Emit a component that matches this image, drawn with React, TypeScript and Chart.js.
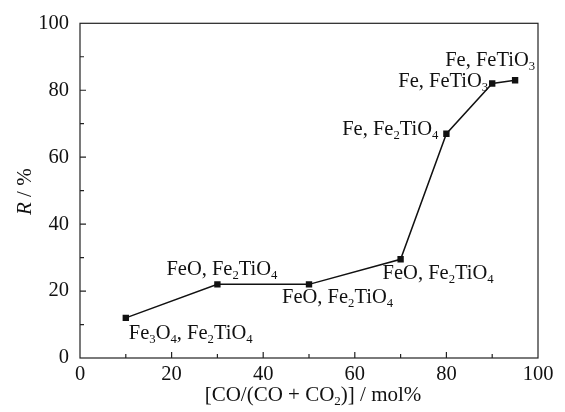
import React, { useEffect, useRef } from "react";
import { Chart, registerables } from "chart.js";

Chart.register(...registerables);

const xValues = [10, 30, 50, 70, 80, 90, 95];
const rValues = [12, 22, 22, 29.5, 67, 82, 83];
const phaseLabels = [
  "Fe_3O_4, Fe_2TiO_4",
  "FeO, Fe_2TiO_4",
  "FeO, Fe_2TiO_4",
  "FeO, Fe_2TiO_4",
  "Fe, Fe_2TiO_4",
  "Fe, FeTiO_3",
  "Fe, FeTiO_3",
];
// label anchor offsets relative to point (px): [dx, dy, align]
const labelOffsets: [number, number, string][] = [
  [3, 16, "left"],
  [-51, -15, "left"],
  [-27, 13, "left"],
  [-18, 14, "left"],
  [-8, -4, "right"],
  [-4, -2, "right"],
  [20, -20, "right"],
];
const xTicks = [0, 20, 40, 60, 80, 100];
const yTicks = [0, 20, 40, 60, 80, 100];

const FONT = "'Liberation Serif', 'DejaVu Serif', serif";

function parseSegs(s: string) {
  const segs: { t: string; sub: boolean }[] = [];
  let i = 0;
  let cur = "";
  while (i < s.length) {
    if (s[i] === "_") {
      if (cur) segs.push({ t: cur, sub: false });
      cur = "";
      segs.push({ t: s[i + 1], sub: true });
      i += 2;
    } else {
      cur += s[i];
      i++;
    }
  }
  if (cur) segs.push({ t: cur, sub: false });
  return segs;
}

function drawRich(ctx: CanvasRenderingContext2D, s: string, x: number, y: number, size: number, align: string) {
  const segs = parseSegs(s);
  const subSize = size * 0.62;
  let w = 0;
  for (const sg of segs) {
    ctx.font = `${sg.sub ? subSize : size}px ${FONT}`;
    w += ctx.measureText(sg.t).width;
  }
  let cx = align === "right" ? x - w : align === "center" ? x - w / 2 : x;
  ctx.textBaseline = "middle";
  ctx.textAlign = "left";
  for (const sg of segs) {
    ctx.font = `${sg.sub ? subSize : size}px ${FONT}`;
    ctx.fillText(sg.t, cx, sg.sub ? y + size * 0.3 : y);
    cx += ctx.measureText(sg.t).width;
  }
}

const overlay = {
  id: "overlay",
  afterDraw(chart: any) {
    const ctx = chart.ctx as CanvasRenderingContext2D;
    const { left, right, top, bottom } = chart.chartArea;
    const xs = chart.scales.x;
    const ys = chart.scales.y;
    ctx.save();
    ctx.strokeStyle = "#222";
    ctx.lineWidth = 1.2;
    ctx.strokeRect(left, top, right - left, bottom - top);
    ctx.beginPath();
    for (let v = 10; v < 100; v += 10) {
      const px = xs.getPixelForValue(v);
      const len = v % 20 === 0 ? 6 : 4;
      ctx.moveTo(px, bottom);
      ctx.lineTo(px, bottom - len);
      const py = ys.getPixelForValue(v);
      ctx.moveTo(left, py);
      ctx.lineTo(left + len, py);
    }
    ctx.stroke();
    ctx.fillStyle = "#111";
    for (let i = 0; i < xValues.length; i++) {
      const px = xs.getPixelForValue(xValues[i]);
      const py = ys.getPixelForValue(rValues[i]);
      const [dx, dy, al] = labelOffsets[i];
      drawRich(ctx, phaseLabels[i], px + dx, py + dy, 20.5, al);
    }
    drawRich(ctx, "[CO/(CO + CO_2)] / mol%", (left + right) / 2 + 4, 395, 21, "center");
    ctx.save();
    ctx.translate(25, (top + bottom) / 2 + 1);
    ctx.rotate(-Math.PI / 2);
    ctx.textBaseline = "middle";
    ctx.textAlign = "left";
    ctx.font = `italic 21px ${FONT}`;
    const w1 = ctx.measureText("R").width;
    ctx.font = `21px ${FONT}`;
    const w2 = ctx.measureText(" / %").width;
    const sx = -(w1 + w2) / 2;
    ctx.font = `italic 21px ${FONT}`;
    ctx.fillText("R", sx, 0);
    ctx.font = `21px ${FONT}`;
    ctx.fillText(" / %", sx + w1, 0);
    ctx.restore();
    ctx.restore();
  },
};

export default function App() {
  const ref = useRef<HTMLCanvasElement>(null);
  useEffect(() => {
    const chart = new Chart(ref.current!, {
      type: "line",
      data: {
        datasets: [
          {
            data: xValues.map((x, i) => ({ x, y: rValues[i] })),
            borderColor: "#111",
            backgroundColor: "#111",
            borderWidth: 1.5,
            pointStyle: "rect",
            pointRadius: 4.5,
            pointBorderWidth: 0,
            tension: 0,
          },
        ],
      },
      options: {
        animation: false,
        responsive: false,
        devicePixelRatio: 1,
        layout: { padding: { left: 0, right: 27, top: 19, bottom: 0 } },
        plugins: { legend: { display: false }, tooltip: { enabled: false } },
        scales: {
          x: {
            type: "linear",
            min: 0,
            max: 100,
            afterBuildTicks: (s: any) => {
              s.ticks = xTicks.map((v) => ({ value: v }));
            },
            afterFit: (s: any) => {
              s.height = 54;
            },
            grid: { display: false, drawTicks: false },
            border: { display: false },
            ticks: { color: "#111", font: { family: FONT, size: 20.5 }, padding: 4, maxRotation: 0 },
          },
          y: {
            type: "linear",
            min: 0,
            max: 100,
            afterBuildTicks: (s: any) => {
              s.ticks = yTicks.map((v) => ({ value: v }));
            },
            afterFit: (s: any) => {
              s.width = 80;
            },
            grid: { display: false, drawTicks: false },
            border: { display: false },
            ticks: { color: "#111", font: { family: FONT, size: 20.5 }, padding: 11 },
          },
        },
      },
      plugins: [overlay],
    });
    return () => chart.destroy();
  }, []);
  return (
    <div style={{ position: "fixed", left: 0, top: 0, width: 565, height: 412, background: "#fff" }}>
      <canvas ref={ref} width={565} height={412} style={{ width: 565, height: 412 }} />
    </div>
  );
}
